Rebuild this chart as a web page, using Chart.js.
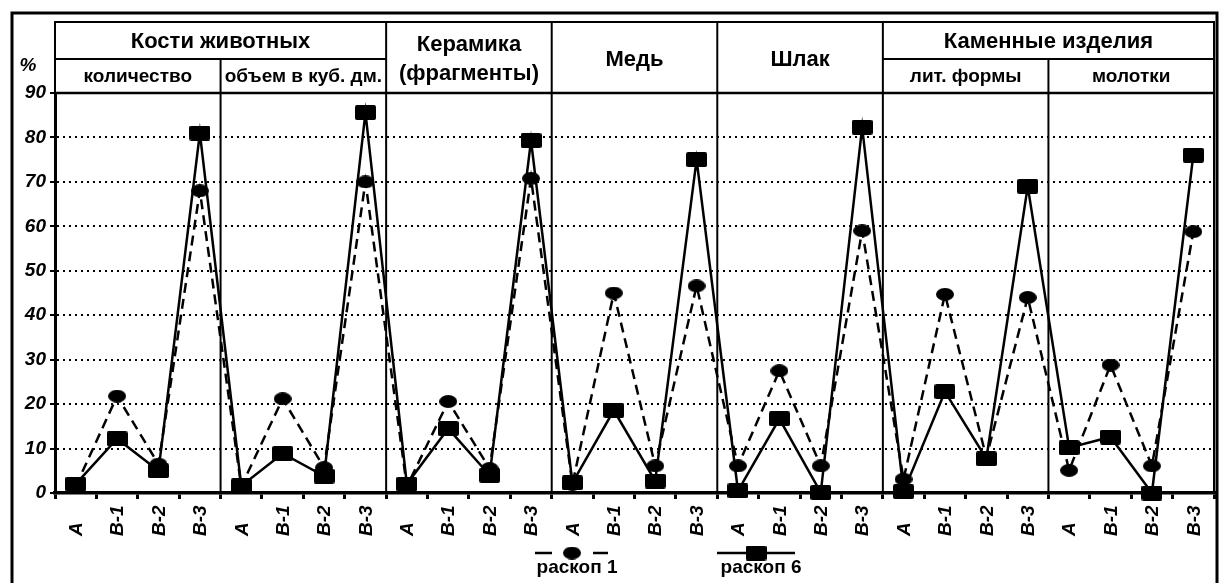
<!DOCTYPE html>
<html lang="ru">
<head>
<meta charset="utf-8">
<title>Раскопы 1 и 6</title>
<script src="https://cdn.jsdelivr.net/npm/chart.js@4.4.0/dist/chart.umd.min.js"></script>
<style>
  html, body { margin: 0; padding: 0; background: #fff; }
  #wrap { width: 1220px; height: 583px; }
</style>
</head>
<body>
<div id="wrap"><canvas id="grafico" width="1220" height="583"></canvas></div>
<script>
// Горизонты, повторяются в каждом столбце
const gorizonty = ['А', 'В-1', 'В-2', 'В-3'];

// Шапка: группы, их ширина в столбцах и подзаголовки
const gruppy = ['Кости животных', 'Керамика\n(фрагменты)', 'Медь', 'Шлак', 'Каменные изделия'];
const shirinaGrupp = [2, 1, 1, 1, 2];
const podgruppy = [['количество', 'объем в куб. дм.'], null, null, null, ['лит. формы', 'молотки']];

// Проценты по раскопам (7 столбцов по 4 горизонта)
const raskop1 = [
    1.5, 21.8, 6.5, 68,
    1.5, 21.2, 5.7, 70,
    1.5, 20.6, 5.5, 70.8,
    2, 45, 6.1, 46.6,
    6.1, 27.5, 6.1, 59,
    3.1, 44.7, 8, 44,
    5.1, 28.8, 6.1, 58.8
];
const raskop6 = [
    2, 12.2, 5, 81,
    1.6, 8.9, 3.8, 85.6,
    2, 14.5, 4, 79.3,
    2.3, 18.6, 2.7, 75,
    0.5, 16.7, 0.1, 82.3,
    0.3, 22.8, 7.7, 69,
    10.2, 12.6, 0, 76
];

// Шкала Y
const yMin = 0, yMax = 90, yShag = 10;

const kategorii = [];
for (let i = 0; i < raskop1.length / gorizonty.length; i++) kategorii.push(...gorizonty);

const SHRIFT = '"Liberation Sans", Arial, sans-serif';

// Маркеры: овал и прямоугольник
function metka(w, h, forma) {
    const c = document.createElement('canvas');
    c.width = w; c.height = h;
    const g = c.getContext('2d');
    g.fillStyle = '#000';
    g.beginPath();
    if (forma === 'oval') g.ellipse(w / 2, h / 2, w / 2, h / 2, 0, 0, Math.PI * 2);
    else if (g.roundRect) g.roundRect(0, 0, w, h, 2);
    else g.rect(0, 0, w, h);
    g.fill();
    return c;
}
const oval = metka(18, 13, 'oval');
const pryamougolnik = metka(21, 15, 'rect');

function liniya(ctx, x1, y1, x2, y2) {
    ctx.beginPath();
    ctx.moveTo(x1, y1);
    ctx.lineTo(x2, y2);
    ctx.stroke();
}

// Шапка таблицы, разделители столбцов, подписи горизонтов, легенда, рамка
const tablica = {
    id: 'tablica',
    beforeDatasetsDraw(chart) {
        const { ctx, chartArea: a, scales: { x } } = chart;
        const n = gorizonty.length;
        const gran = k => (x.getPixelForValue(k - 1) + x.getPixelForValue(k)) / 2;
        ctx.save();
        ctx.strokeStyle = '#000';
        ctx.lineWidth = 2;
        let col = 0;
        gruppy.forEach((g, i) => {
            if (col > 0) liniya(ctx, gran(col * n), 22, gran(col * n), a.bottom);
            if (podgruppy[i]) {
                for (let j = 1; j < podgruppy[i].length; j++) {
                    const xs = gran((col + j) * n);
                    liniya(ctx, xs, 59, xs, a.bottom);
                }
            }
            col += shirinaGrupp[i];
        });
        ctx.restore();
    },
    afterDraw(chart) {
        const { ctx, chartArea: a, scales: { x } } = chart;
        const n = gorizonty.length;
        const gran = k => k <= 0 ? a.left : (k >= kategorii.length ? a.right :
            (x.getPixelForValue(k - 1) + x.getPixelForValue(k)) / 2);
        const verh = 22, sered = 59, niz = a.top;

        ctx.save();
        ctx.strokeStyle = '#000';
        ctx.fillStyle = '#000';
        ctx.lineWidth = 2;
        liniya(ctx, a.left - 1, verh, a.right + 1, verh);
        ctx.lineWidth = 2.5;
        liniya(ctx, a.left, niz, a.right, niz);
        ctx.lineWidth = 2;
        liniya(ctx, a.left, verh, a.left, niz);
        liniya(ctx, a.right, verh, a.right, a.bottom);

        ctx.textAlign = 'center';
        ctx.textBaseline = 'middle';
        let col = 0;
        gruppy.forEach((g, i) => {
            const x0 = gran(col * n), x1 = gran((col + shirinaGrupp[i]) * n);
            const subs = podgruppy[i];
            ctx.font = 'bold 22px ' + SHRIFT;
            if (subs) {
                liniya(ctx, x0, sered, x1, sered);
                ctx.fillText(g, (x0 + x1) / 2, (verh + sered) / 2 + 1);
                ctx.font = 'bold 19px ' + SHRIFT;
                subs.forEach((s, j) => {
                    const s0 = gran((col + j) * n), s1 = gran((col + j + 1) * n);
                    ctx.fillText(s, (s0 + s1) / 2, (sered + niz) / 2 + 1);
                });
            } else {
                const stroki = g.split('\n');
                stroki.forEach((t, j) => {
                    ctx.fillText(t, (x0 + x1) / 2, (verh + niz) / 2 + 2 + (j - (stroki.length - 1) / 2) * 29);
                });
            }
            col += shirinaGrupp[i];
        });

        // подписи горизонтов, снизу вверх
        ctx.font = 'italic bold 19px ' + SHRIFT;
        ctx.textAlign = 'left';
        kategorii.forEach((k, i) => {
            ctx.save();
            ctx.translate(x.getPixelForValue(i), 536);
            ctx.rotate(-Math.PI / 2);
            ctx.fillText(k, 0, 1);
            ctx.restore();
        });

        // знак процента над шкалой
        ctx.font = 'italic bold 19px ' + SHRIFT;
        ctx.textAlign = 'center';
        ctx.fillText('%', 28, 66);

        // легенда
        const centry = [572, 756];
        chart.data.datasets.forEach((ds, i) => {
            const cx = centry[i], cy = 553;
            ctx.lineWidth = ds.borderWidth;
            if (ds.borderDash) {
                liniya(ctx, cx - 37, cy, cx - 20, cy);
                liniya(ctx, cx + 21, cy, cx + 36, cy);
            } else {
                liniya(ctx, cx - 39, cy, cx + 39, cy);
            }
            const m = ds.pointStyle;
            ctx.drawImage(m, cx - m.width / 2, cy - m.height / 2);
            ctx.font = 'bold 19px ' + SHRIFT;
            ctx.textAlign = 'center';
            ctx.fillText(ds.label, cx + 5, cy + 15);
        });

        // внешняя рамка
        ctx.lineWidth = 3;
        ctx.strokeRect(12, 13, 1205, 600);
        ctx.restore();
    }
};

new Chart(document.getElementById('grafico'), {
    type: 'line',
    data: {
        labels: kategorii,
        datasets: [
            {
                label: 'раскоп 1',
                data: raskop1,
                borderColor: '#000',
                borderWidth: 2.5,
                borderDash: [10, 6],
                pointStyle: oval,
                pointRadius: 9,
                tension: 0,
                clip: false,
                order: 2
            },
            {
                label: 'раскоп 6',
                data: raskop6,
                borderColor: '#000',
                borderWidth: 2.5,
                pointStyle: pryamougolnik,
                pointRadius: 9,
                tension: 0,
                clip: false,
                order: 1
            }
        ]
    },
    options: {
        responsive: false,
        devicePixelRatio: 1,
        animation: false,
        events: [],
        layout: { autoPadding: false, padding: { top: 93, right: 6, left: 0, bottom: 0 } },
        plugins: {
            legend: { display: false },
            tooltip: { enabled: false }
        },
        scales: {
            x: {
                offset: true,
                afterFit: s => { s.height = 90; },
                ticks: { display: false },
                grid: { offset: true, drawOnChartArea: false, drawTicks: true, tickLength: 6, color: '#000', lineWidth: 3 },
                border: { color: '#000', width: 3.5 }
            },
            y: {
                min: yMin,
                max: yMax,
                afterFit: s => { s.width = 55; },
                ticks: {
                    stepSize: yShag,
                    color: '#000',
                    padding: 4,
                    font: { family: SHRIFT, size: 19, weight: 'bold', style: 'italic' }
                },
                grid: {
                    color: c => (c.tick && (c.tick.value === yMin || c.tick.value === yMax)) ? 'rgba(0,0,0,0)' : '#000',
                    lineWidth: 2,
                    tickLength: 5,
                    tickColor: '#000',
                    tickWidth: 2
                },
                border: { color: '#000', width: 3, dash: [2, 4] }
            }
        }
    },
    plugins: [tablica]
});
</script>
</body>
</html>
